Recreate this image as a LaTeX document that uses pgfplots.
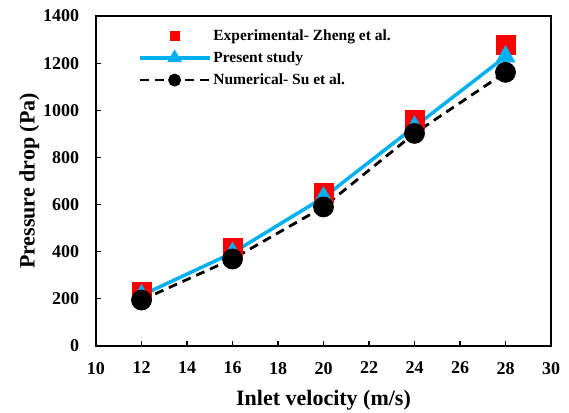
\documentclass[border=0pt]{standalone}
\usepackage{pgfplots}
\pgfplotsset{compat=1.18}
\usepackage{fontspec}
\setmainfont{Liberation Serif}
\definecolor{cyanline}{RGB}{0,176,240}
\definecolor{redsq}{RGB}{255,0,0}
\begin{document}
\begin{tikzpicture}
\begin{axis}[
  scale only axis,
  width=455pt, height=330pt,
  xmin=10, xmax=30, ymin=0, ymax=1400,
  xtick={10,12,...,30},
  ytick={0,200,...,1400},
  tick align=inside,
  xtick pos=left, ytick pos=left,
  major tick length=5pt,
  axis line style={line width=1.6pt},
  every tick/.style={line width=1.2pt, black},
  /pgf/number format/assume math mode=true,
  /pgf/number format/1000 sep={},
  ticklabel style={font=\fontsize{18}{20}\selectfont\bfseries},
  xticklabel style={yshift=-12.5pt},
  yticklabel style={xshift=-13.4pt},
  xlabel={Inlet velocity (m/s)},
  ylabel={Pressure drop (Pa)},
  label style={font=\fontsize{22}{24}\selectfont\bfseries},
  xlabel style={yshift=-9pt},
  ylabel style={yshift=-3pt},
  legend style={at={(0.085,0.972)}, anchor=north west, draw=none, fill=none,
    font=\fontsize{15.5}{17}\selectfont\bfseries, row sep=6pt,
    /tikz/every even column/.append style={column sep=2pt}},
  legend cell align=left,
]
\addplot[only marks, mark=square*, mark size=9.5pt, color=redsq,
  legend image code/.code={\draw[only marks, mark=square*, mark size=4.5pt, color=redsq] plot coordinates {(35pt,0pt)};}]
  coordinates {(12,232) (16,418) (20,652) (24,958) (28,1280)};
\addlegendentry{Experimental- Zheng et al.}
\addplot[color=cyanline, line width=3.5pt, mark=triangle*, mark size=8pt,
  mark options={solid},
  legend image code/.code={\draw[color=cyanline, line width=3.5pt] (0pt,0pt) -- (70pt,0pt); \draw[fill=cyanline, draw=cyanline] plot[mark=triangle*, mark size=5pt] coordinates {(35pt,0pt)};}]
  coordinates {(12,215) (16,395) (20,630) (24,930) (28,1228)};
\addlegendentry{Present study}
\addplot[color=black, line width=2.8pt, dash pattern=on 9pt off 6pt, mark=*, mark size=9pt,
  mark options={solid},
  legend image code/.code={\draw[color=black, line width=2.8pt, dash pattern=on 9pt off 6pt] (0pt,0pt) -- (70pt,0pt); \draw[fill=black] plot[mark=*, mark size=5pt] coordinates {(35pt,0pt)};}]
  coordinates {(12,195) (16,369) (20,590) (24,902) (28,1161)};
\addlegendentry{Numerical- Su et al.}
\end{axis}
\pgfresetboundingbox
\path ([shift={(-96pt,-66pt)}]current axis.south west) rectangle ([shift={(18pt,16pt)}]current axis.north east);
\end{tikzpicture}
\end{document}
